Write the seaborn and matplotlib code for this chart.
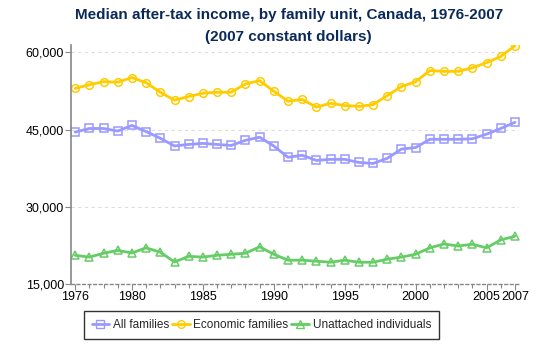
import numpy as np
import pandas as pd
import matplotlib
matplotlib.use("Agg")
import matplotlib.pyplot as plt
from matplotlib.ticker import FuncFormatter, FixedLocator, MultipleLocator
from matplotlib.lines import Line2D
import seaborn as sns

years = list(range(1976, 2008))
all_families = [44500, 45200, 45200, 44700, 45800, 44600, 43300, 41800, 42100, 42300,
                42100, 41900, 42900, 43500, 41800, 39600, 40000, 39000, 39200, 39200,
                38600, 38400, 39400, 41200, 41500, 43100, 43100, 43100, 43200, 44100,
                45200, 46400]
economic_families = [53000, 53700, 54300, 54200, 55100, 54100, 52250, 50700, 51400, 52050,
                     52250, 52250, 53850, 54500, 52450, 50500, 50850, 49350, 50100, 49650,
                     49500, 49850, 51600, 53350, 54300, 56450, 56300, 56300, 57000, 58000,
                     59200, 61300]
unattached = [20550, 20200, 20950, 21500, 21000, 22000, 21150, 19250, 20350, 20200,
              20550, 20750, 20950, 22200, 20750, 19600, 19600, 19400, 19200, 19600,
              19200, 19200, 19800, 20200, 20750, 22000, 22750, 22350, 22700, 22000,
              23550, 24250]
series_names = ["All families", "Economic families", "Unattached individuals"]
x_tick_labels = [1976, 1980, 1985, 1990, 1995, 2000, 2005, 2007]
y_ticks = [15000, 30000, 45000, 60000]

df = pd.DataFrame({
    "Year": years * 3,
    "Income": all_families + economic_families + unattached,
    "Series": [series_names[0]] * len(years) + [series_names[1]] * len(years) + [series_names[2]] * len(years),
})

sns.set_theme(style="white")
plt.rcParams["font.family"] = ["Liberation Sans", "DejaVu Sans"]

colors = {"All families": "#9999ff", "Economic families": "#ffcc00", "Unattached individuals": "#66cc66"}
markers = {"All families": "s", "Economic families": "o", "Unattached individuals": "^"}

fig = plt.figure(figsize=(5.5, 3.5), dpi=100)
ax = fig.add_axes([0.129, 0.189, 0.815, 0.682])

sns.lineplot(data=df, x="Year", y="Income", hue="Series", style="Series",
             palette=colors, markers=markers, dashes=False, ax=ax,
             linewidth=2, markersize=5.5, markerfacecolor="none",
             markeredgewidth=1.1, legend=False)
for line in ax.lines:
    line.set_markeredgecolor(line.get_color())
    line.set_markerfacecolor("none")

ax.set_xlim(1975.7, 2007.3)
ax.set_ylim(15000, 61400)
ax.xaxis.set_major_locator(FixedLocator(x_tick_labels))
ax.xaxis.set_minor_locator(MultipleLocator(1))
ax.set_yticks(y_ticks)
ax.yaxis.set_major_formatter(FuncFormatter(lambda v, p: f"{int(v):,}"))
ax.tick_params(axis="both", which="major", length=4, width=0.8, color="#888888",
               labelsize=9, labelcolor="black", pad=1, bottom=True, left=True)
ax.tick_params(axis="x", which="minor", length=3, width=0.8, color="#888888", bottom=True)
ax.set_xlabel("")
ax.set_ylabel("")

for yv in y_ticks[1:]:
    ax.axhline(yv, color="#dddddd", linestyle=(0, (3, 3)), linewidth=0.8, zorder=0)

for s in ["top", "right"]:
    ax.spines[s].set_visible(False)
ax.spines["left"].set_color("#888888")
ax.spines["left"].set_linewidth(1.2)
ax.spines["bottom"].set_color("#888888")
ax.spines["bottom"].set_linewidth(1.0)
ax.spines["bottom"].set_linestyle((0, (2, 2)))

fig.text(0.525, 0.957, "Median after-tax income, by family unit, Canada, 1976-2007",
         ha="center", va="center", fontsize=11, fontweight="bold", color="#0b2a5a")
fig.text(0.525, 0.895, "(2007 constant dollars)",
         ha="center", va="center", fontsize=11, fontweight="bold", color="#0b2a5a")

handles = [Line2D([], [], color=colors[n], marker=markers[n], markerfacecolor="none",
                  markeredgecolor=colors[n], linewidth=2, markersize=5.5) for n in series_names]
leg = fig.legend(handles, series_names, loc="center", bbox_to_anchor=(0.475, 0.071),
                 ncol=3, fontsize=8.5, frameon=True, fancybox=False, handlelength=1.5,
                 handletextpad=0.3, columnspacing=0.25, borderpad=0.65, borderaxespad=0)
leg.get_frame().set_edgecolor("black")
leg.get_frame().set_linewidth(1.0)

fig.savefig("out.png", dpi=100)
